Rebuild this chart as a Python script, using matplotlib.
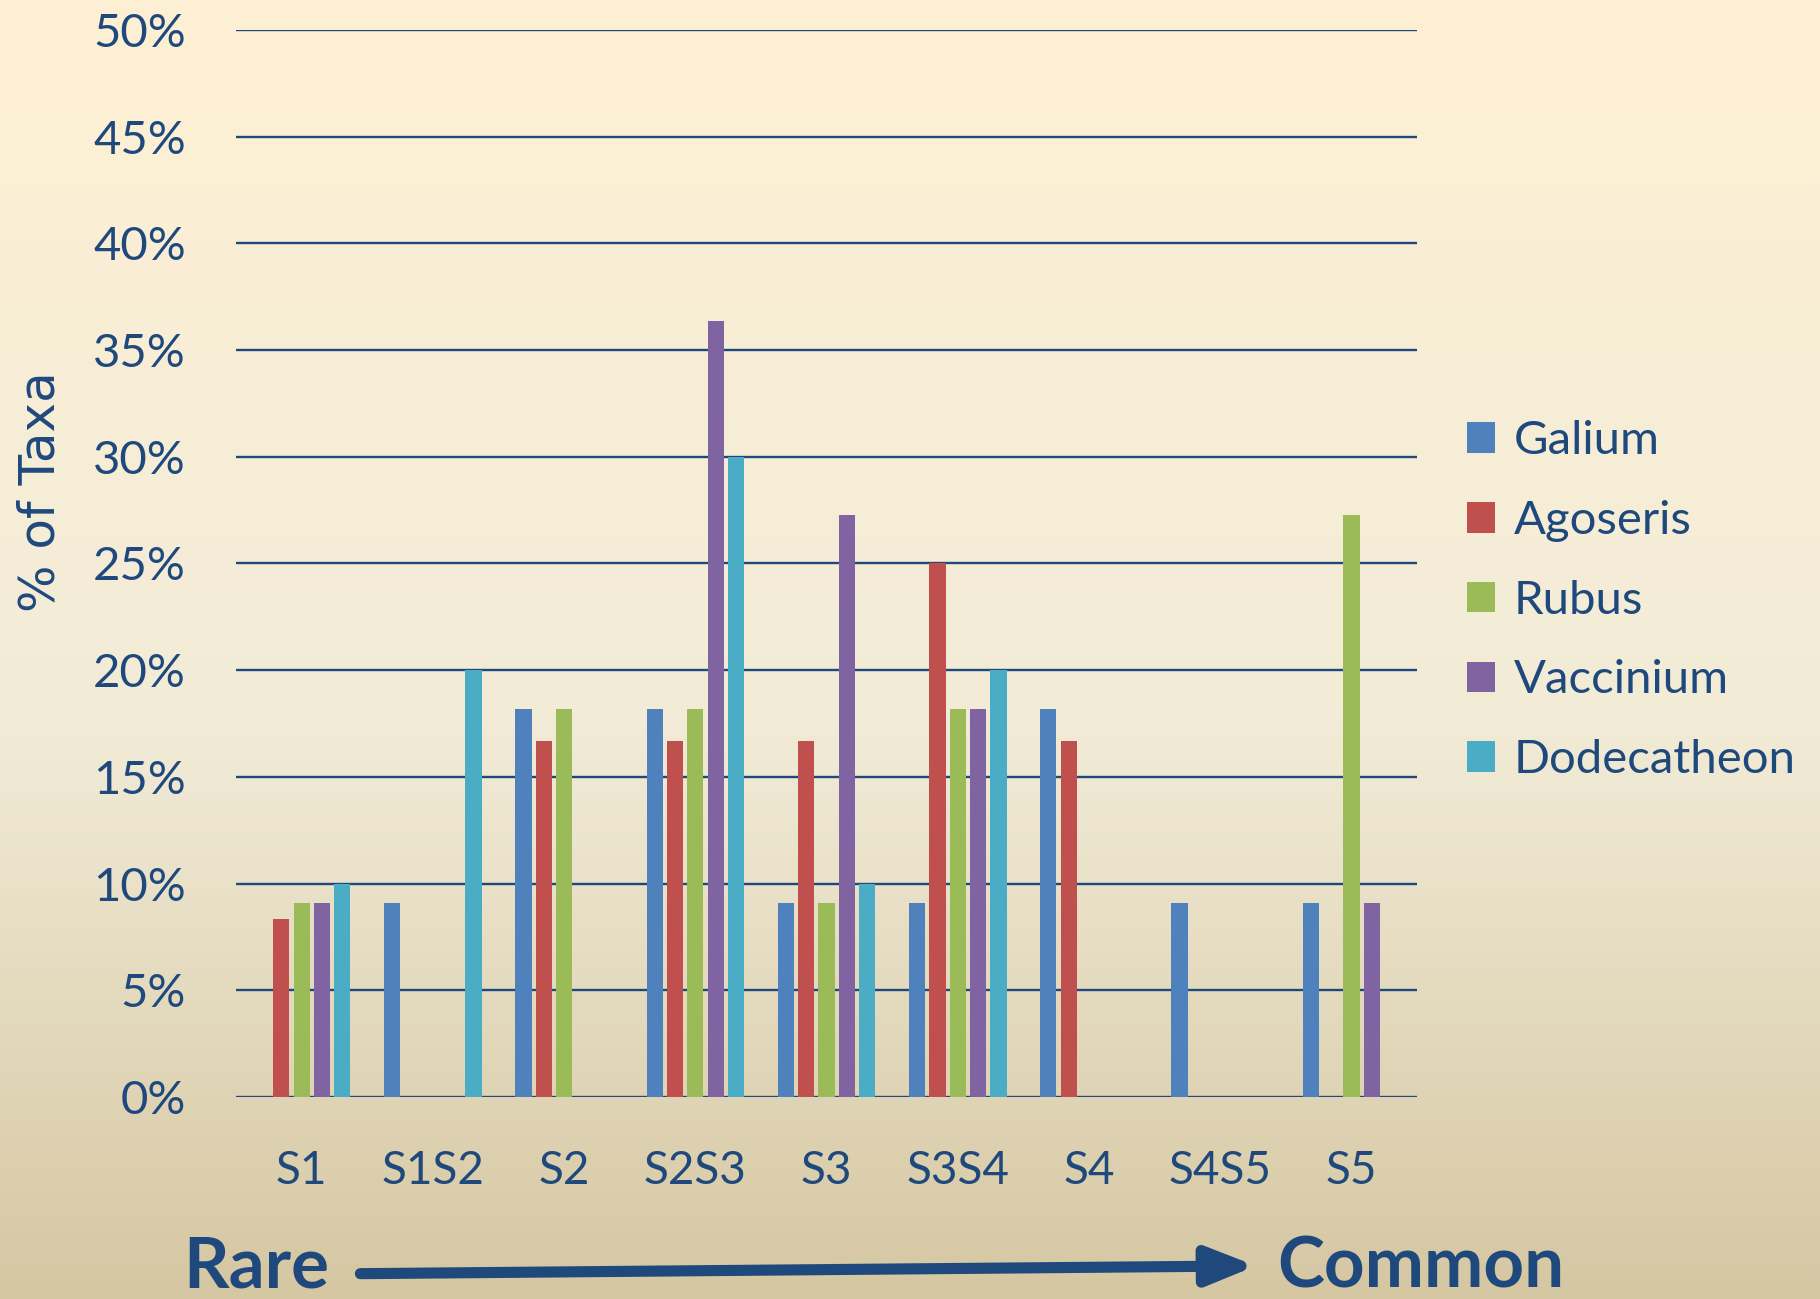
import numpy as np
import matplotlib
matplotlib.use("Agg")
import matplotlib.pyplot as plt
from matplotlib.colors import LinearSegmentedColormap

categories = ["S1", "S1S2", "S2", "S2S3", "S3", "S3S4", "S4", "S4S5", "S5"]
galium = [0, 9.09, 18.18, 18.18, 9.09, 9.09, 18.18, 9.09, 9.09]
agoseris = [8.33, 0, 16.67, 16.67, 16.67, 25.0, 16.67, 0, 0]
rubus = [9.09, 0, 18.18, 18.18, 9.09, 18.18, 0, 0, 27.27]
vaccinium = [9.09, 0, 0, 36.36, 27.27, 18.18, 0, 0, 9.09]
dodecatheon = [10.0, 20.0, 0, 30.0, 10.0, 20.0, 0, 0, 0]

series = [("Galium", galium, "#4F81BD"),
          ("Agoseris", agoseris, "#C0504D"),
          ("Rubus", rubus, "#9BBB59"),
          ("Vaccinium", vaccinium, "#8064A2"),
          ("Dodecatheon", dodecatheon, "#4BACC6")]

navy = "#1F497D"
font = "Lato"

fig = plt.figure(figsize=(18.2, 12.99), dpi=100)

# background gradient
bg = fig.add_axes([0, 0, 1, 1], zorder=-10)
grad_cmap = LinearSegmentedColormap.from_list(
    "bg", [(0.0, "#FEF0D4"), (0.55, "#F2ECD8"), (1.0, "#D5C7A2")])
bg.imshow(np.linspace(0, 1, 256).reshape(-1, 1), aspect="auto",
          cmap=grad_cmap, extent=[0, 1, 0, 1], origin="upper")
bg.set_axis_off()

ax = fig.add_axes([0.1297, 0.1555, 0.6489, 0.8215])
ax.patch.set_alpha(0)

x = np.arange(len(categories))
slot = 0.155
bw = 0.124
for i, (name, vals, col) in enumerate(series):
    ax.bar(x + (i - 2) * slot, vals, width=bw, color=col, label=name, zorder=3)

ax.set_xlim(-0.5, len(categories) - 0.5)
ax.set_ylim(0, 50)
ax.set_yticks(np.arange(0, 51, 5))
ax.set_yticklabels([f"{v}%" for v in range(0, 51, 5)])
ax.set_xticks(x)
ax.set_xticklabels(categories)
ax.yaxis.grid(True, color=navy, linewidth=1.7, zorder=0)
ax.set_axisbelow(True)
for s in ax.spines.values():
    s.set_visible(False)
ax.tick_params(axis="both", length=0, colors=navy)
ax.tick_params(axis="y", pad=36, labelsize=34)
ax.tick_params(axis="x", pad=38, labelsize=33)
for lab in ax.get_xticklabels() + ax.get_yticklabels():
    lab.set_fontfamily(font)

ax.set_ylabel("% of Taxa", fontsize=36, color=navy, family="DejaVu Sans")
ax.yaxis.set_label_coords(-0.145, 0.567)

leg = ax.legend(loc="upper left", bbox_to_anchor=(1.026, 0.652), frameon=False,
                prop={"family": font, "size": 34}, labelcolor=navy,
                handlelength=0.6, handleheight=0.62, handletextpad=0.4,
                labelspacing=0.8, borderaxespad=0)

fig.text(0.1007, 0.0, "Rare", fontsize=51, fontweight="bold", color=navy,
         family=font, va="bottom", ha="left")
fig.text(0.7016, 0.0, "Common", fontsize=51, fontweight="bold", color=navy,
         family=font, va="bottom", ha="left")
fig.patches.append(matplotlib.patches.FancyArrowPatch(
    (0.198, 0.0195), (0.690, 0.0255), transform=fig.transFigure,
    arrowstyle="-|>,head_length=0.95,head_width=0.38", mutation_scale=30,
    color=navy, linewidth=8, shrinkA=0, shrinkB=0))

fig.savefig("out.png", dpi=100)
